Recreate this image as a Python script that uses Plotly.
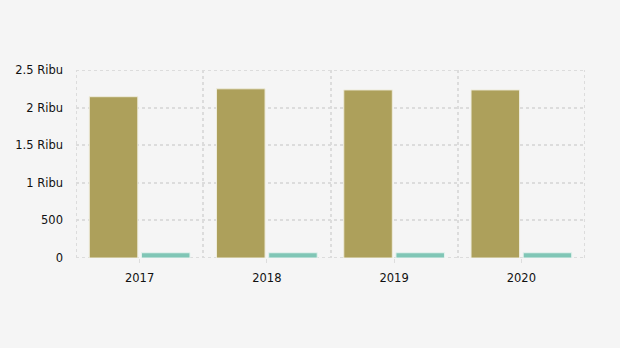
import plotly.graph_objects as go

years = ["2017", "2018", "2019", "2020"]
series_a = [2145, 2250, 2235, 2235]
series_b = [70, 70, 70, 70]
ytick_vals = [0, 500, 1000, 1500, 2000, 2500]
ytick_text = ["0", "500", "1 Ribu", "1.5 Ribu", "2 Ribu", "2.5 Ribu"]

xpos = list(range(len(years)))
x_lo, x_hi = -0.5, len(years) - 0.5
y_lo, y_hi = 0, 2500
grid_col = "#dcdcdc"
grid_dash = "3px,3px"

fig = go.Figure()
fig.add_trace(go.Bar(x=xpos, y=series_a, marker=dict(color="#ada05b", line=dict(color="#eeecdc", width=1))))
fig.add_trace(go.Bar(x=xpos, y=series_b, marker=dict(color="#80c6b6", line=dict(color="#e4f2ee", width=1))))

# frame grid lines at the plot edges (plotly skips grid lines on the edges)
for yv in (y_lo, y_hi):
    fig.add_shape(type="line", xref="x", yref="y", x0=x_lo, x1=x_hi, y0=yv, y1=yv,
                  line=dict(color=grid_col, width=2, dash=grid_dash), layer="below")
for xv in (x_lo, x_hi):
    fig.add_shape(type="line", xref="x", yref="y", x0=xv, x1=xv, y0=y_lo, y1=y_hi,
                  line=dict(color=grid_col, width=2, dash=grid_dash), layer="below")

fig.update_layout(
    width=620, height=348,
    margin=dict(l=76, r=35, t=70, b=90),
    paper_bgcolor="#f5f5f5", plot_bgcolor="#f5f5f5",
    barmode="group", bargap=0.18, bargroupgap=0.07,
    showlegend=False,
    font=dict(family="DejaVu Sans", size=11.5, color="#111111"),
)
fig.update_xaxes(
    range=[x_lo, x_hi],
    tickvals=xpos, ticktext=years,
    showgrid=False, zeroline=False,
    ticks="outside", ticklen=4, tickcolor="#dddddd",
    ticklabelstandoff=5,
    minor=dict(tickvals=[v + 0.5 for v in xpos[:-1]], showgrid=True,
               gridcolor=grid_col, griddash=grid_dash, gridwidth=2),
    showline=False,
)
fig.update_yaxes(
    range=[y_lo, y_hi],
    tickvals=ytick_vals, ticktext=ytick_text,
    showgrid=True, gridcolor=grid_col, griddash=grid_dash, gridwidth=2,
    zeroline=False, ticks="", ticklabelstandoff=12,
)
fig.write_html("out.html")
